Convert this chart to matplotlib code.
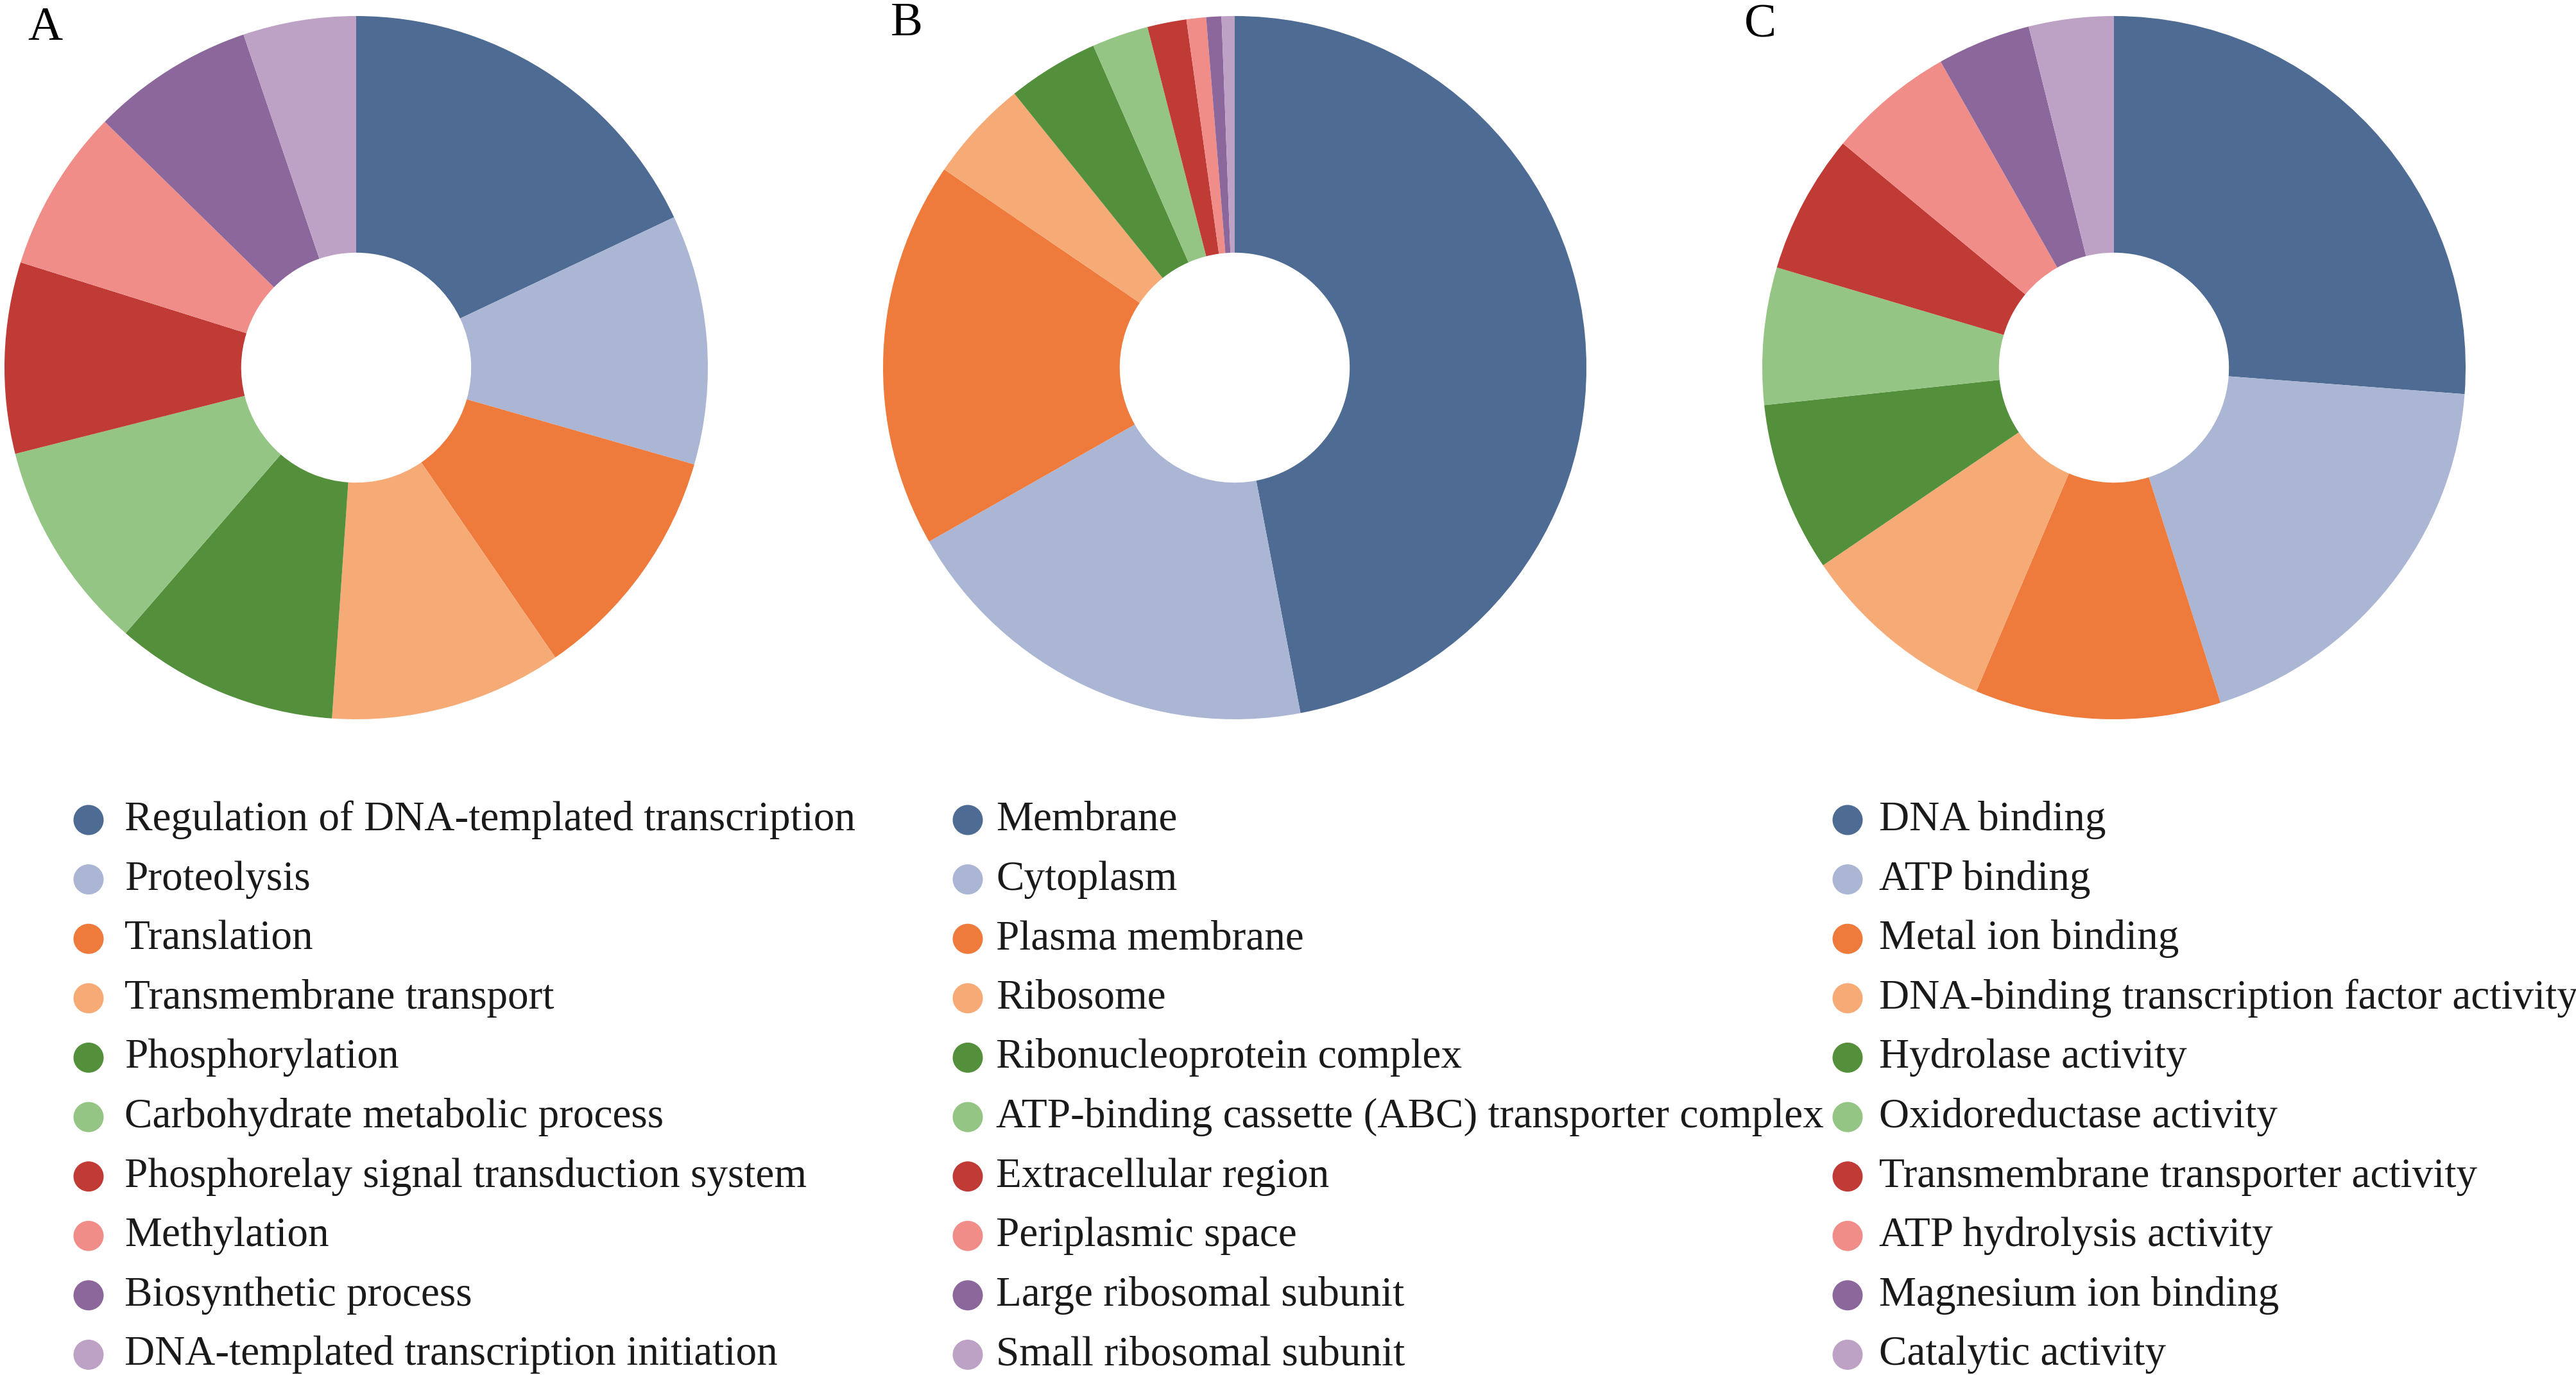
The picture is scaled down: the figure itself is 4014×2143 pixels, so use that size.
import matplotlib.pyplot as plt
from matplotlib.patches import Circle

bp_labels = ["Regulation of DNA-templated transcription", "Proteolysis", "Translation",
             "Transmembrane transport", "Phosphorylation", "Carbohydrate metabolic process",
             "Phosphorelay signal transduction system", "Methylation",
             "Biosynthetic process", "DNA-templated transcription initiation"]
bp_values = [18.0, 11.5, 11.0, 10.7, 10.3, 9.7, 8.8, 7.5, 7.5, 5.2]

cc_labels = ["Membrane", "Cytoplasm", "Plasma membrane", "Ribosome",
             "Ribonucleoprotein complex", "ATP-binding cassette (ABC) transporter complex",
             "Extracellular region", "Periplasmic space", "Large ribosomal subunit",
             "Small ribosomal subunit"]
cc_values = [47.1, 19.8, 17.8, 4.7, 4.2, 2.6, 1.8, 0.9, 0.7, 0.6]

mf_labels = ["DNA binding", "ATP binding", "Metal ion binding",
             "DNA-binding transcription factor activity", "Hydrolase activity",
             "Oxidoreductase activity", "Transmembrane transporter activity",
             "ATP hydrolysis activity", "Magnesium ion binding", "Catalytic activity"]
mf_values = [26.2, 18.9, 11.3, 9.1, 7.8, 6.3, 6.4, 5.8, 4.3, 3.9]

colors = ["#4D6B93", "#AAB6D3", "#EE7A3C", "#F6AA76", "#54903B",
          "#94C584", "#C03B35", "#F08D88", "#8C679B", "#BEA2C5"]

W, H = 4014, 2143
fig = plt.figure(figsize=(W / 100, H / 100), dpi=100)
font = "Liberation Serif"

panels = [("A", bp_values, bp_labels, 555, 43, 62, 138, 194),
          ("B", cc_values, cc_labels, 1924, 1388, 55, 1508, 1552),
          ("C", mf_values, mf_labels, 3294, 2718, 58, 2879, 2928)]
cy, r = 573, 548

# overlay in pixel units for panel letters and legends
ov = fig.add_axes([0, 0, 1, 1])
ov.set_xlim(0, W)
ov.set_ylim(H, 0)
ov.axis("off")

for letter, vals, labels, cx, lx, ly, mx, tx in panels:
    ax = fig.add_axes([(cx - r) / W, 1 - (cy + r) / H, 2 * r / W, 2 * r / H])
    ax.pie(vals, colors=colors, startangle=90, counterclock=False,
           wedgeprops=dict(width=0.673, linewidth=0))
    ax.set_xlim(-1, 1)
    ax.set_ylim(-1, 1)
    ax.set_aspect("equal")
    ax.axis("off")

    ov.text(lx, ly, letter, fontsize=54, family=font, va="baseline", ha="left")
    for i, lab in enumerate(labels):
        y = 1278 + i * 92.6
        ov.add_patch(Circle((mx, y), 23.5, color=colors[i], lw=0))
        ov.text(tx, y + 16, lab, fontsize=47, family=font, va="baseline",
                ha="left", color="#1a1a1a")

fig.savefig("out.png", dpi=100)
